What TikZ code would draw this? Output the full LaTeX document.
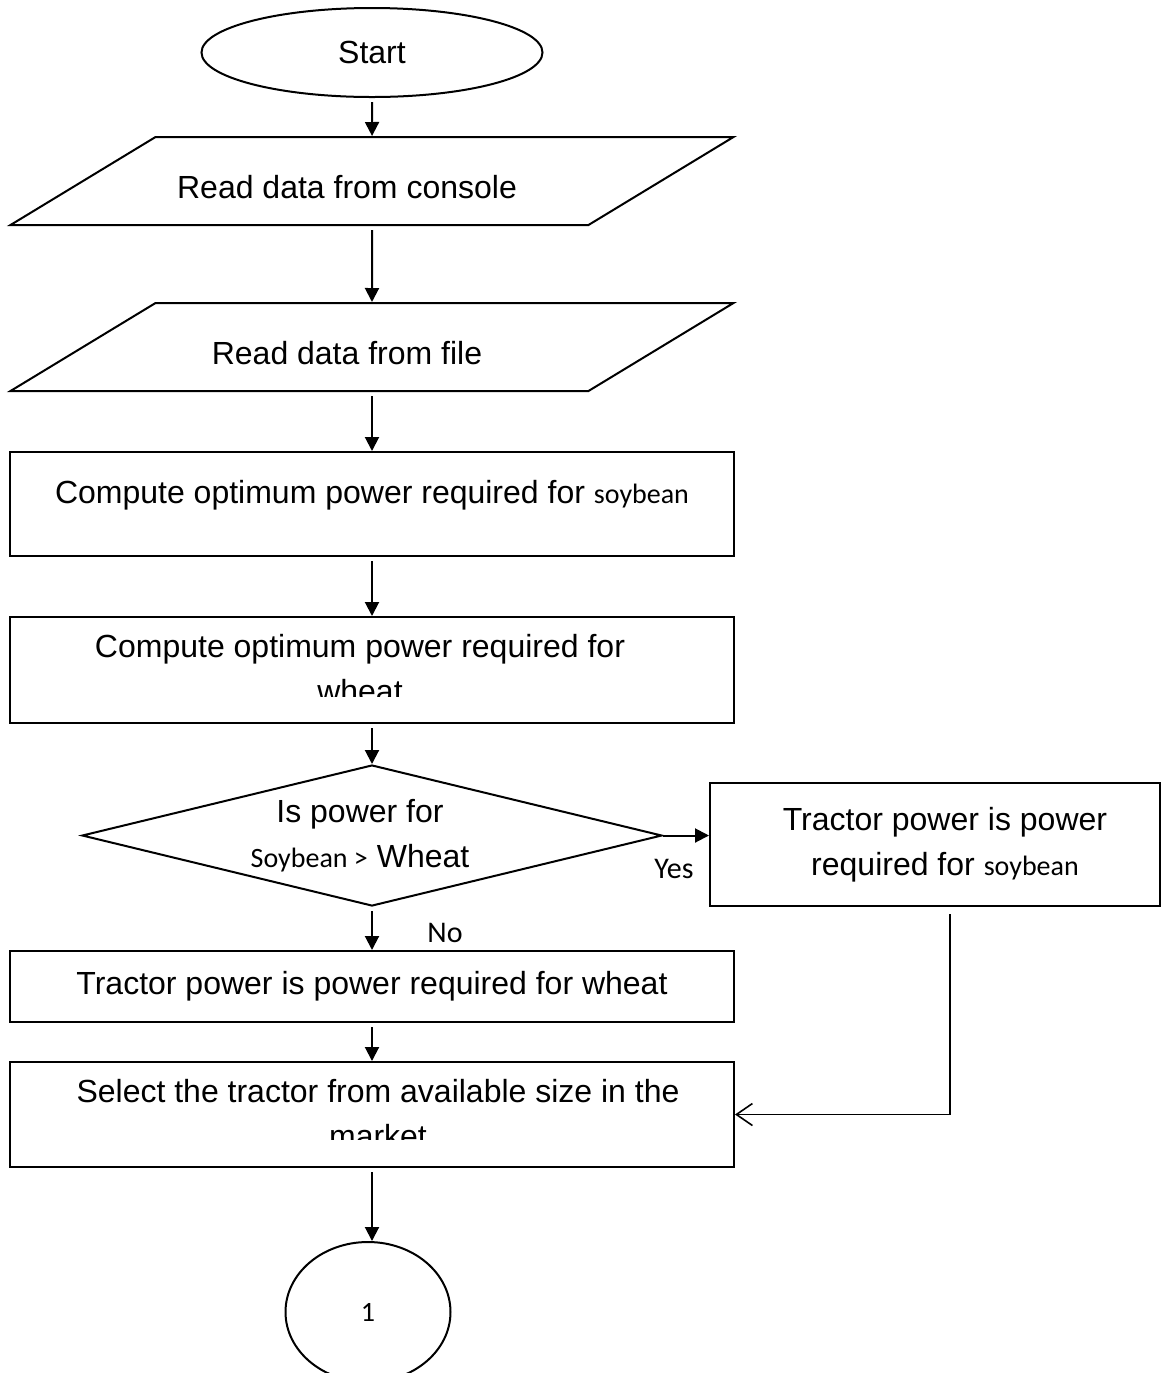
\documentclass[tikz,border=0pt]{standalone}
\usepackage{fontspec}
\setmainfont{Liberation Sans}
\newfontfamily\carl{Carlito}
\usetikzlibrary{arrows.meta,shapes.geometric}
\tikzset{>/.tip={Triangle[length=7pt,width=7pt]},
  every node/.style={font=\fontsize{16pt}{22.5pt}\selectfont, align=center},
  proc/.style={draw, rectangle, minimum width=362pt, inner sep=0pt},
  io/.style={draw, trapezium, trapezium left angle=31.25, trapezium right angle=148.75,
    trapezium stretches body=true, minimum width=361.5pt, minimum height=44pt,
    inner sep=0pt, text height=30.5pt, text depth=13.5pt},
  note/.style={font=\carl\fontsize{15pt}{18pt}\selectfont},
  flow/.style={->, shorten <=2pt}}
\newcommand{\soy}[1]{{\carl\fontsize{14pt}{22.5pt}\selectfont #1}}

\begin{document}
\begin{tikzpicture}[x=0.5pt, y=-0.5pt, line width=1pt]
\useasboundingbox (0,0) rectangle (1162,1373);
\node[draw, ellipse, minimum width=170.5pt, minimum height=44.5pt, inner sep=0pt] (start) at (372,52.5) {Start};
\node[io] (console) at (372,181) {\mbox{Read data from console\hspace{25pt}}};
\node[io] (file) at (372,347) {\mbox{Read data from file\hspace{25pt}}};
\node[proc, minimum height=52pt, text depth=12pt] (soy) at (372,504) {Compute optimum power required for \soy{soybean}};
\node[proc, minimum height=53pt] (wheat) at (372,670) {};
\begin{scope}
  \clip (wheat.north west) rectangle ([yshift=14pt]wheat.south east);
  \node (wheattxt) at (360,669) {Compute optimum power required for\\wheat};
\end{scope}
\node[draw, diamond, minimum width=290pt, minimum height=70.5pt, inner sep=0pt,
  label={[xshift=-6pt]center:{Is power for\\\soy{Soybean >} Wheat}}] (test) at (372,835.5) {};
\node[proc, minimum width=225pt, minimum height=61.5pt] (soyout) at (935,844.5) {\mbox{\hspace{10pt}Tractor power is power}\\\mbox{\hspace{10pt}required for \soy{soybean}}};
\node[proc, minimum height=35.5pt] (wheatout) at (372,986.5) {Tractor power is power required for wheat};
\node[proc, minimum height=52.5pt] (select) at (372,1114.5) {};
\begin{scope}
  \clip (select.north west) rectangle ([yshift=14.5pt]select.south east);
  \node (selecttxt) at (378,1114) {Select the tractor from available size in the\\market};
\end{scope}
\node[draw, ellipse, minimum width=82.5pt, minimum height=70pt, inner sep=0pt,
  font=\carl\fontsize{14pt}{17pt}\selectfont] (conn) at (368,1312) {1};
\node[note] (yes) at (674,869) {Yes};
\node[note] (no) at (445,933) {No};
% connectors
\draw[flow] (start) -- (console);
\draw[flow] (console) -- (file);
\draw[flow] (file) -- (soy);
\draw[flow] (soy) -- (wheat);
\draw[flow] (wheat) -- (test);
\draw[->] (test.east) -- (test.east -| soyout.west);
\draw[flow] (test) -- (wheatout);
\draw[flow] (wheatout) -- (select);
\draw[flow] (select.south) -- (select.south |- conn.north);
\draw[-{Straight Barb[length=8pt,width=11pt]}, line width=0.8pt, shorten <=3.5pt] ([xshift=7.5pt]soyout.south) |- (select.east);
\end{tikzpicture}
\end{document}
